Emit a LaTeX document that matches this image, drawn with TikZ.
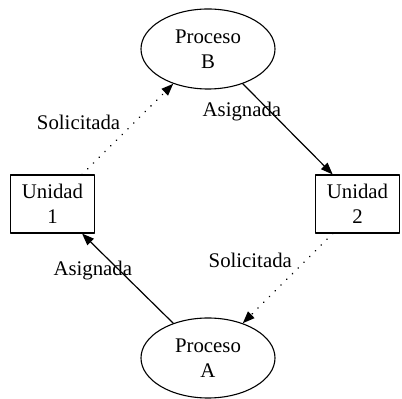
\documentclass[tikz,border=0pt]{standalone}
\usepackage{fontspec}
\setmainfont{Liberation Serif}
\usetikzlibrary{shapes.geometric,arrows.meta}
\begin{document}
\begin{tikzpicture}[x=1pt,y=1pt,>={Triangle[length=12pt,width=9pt]},
  font=\fontsize{20.8}{25}\selectfont, line join=round,
  proc/.style={draw,ellipse,line width=1.1pt,minimum width=134pt,minimum height=80pt,inner sep=0pt,align=center},
  caja/.style={draw,rectangle,line width=1.1pt,minimum width=84pt,minimum height=58pt,inner sep=0pt,align=center},
  punteado/.style={line width=1.7pt,line cap=round,dash pattern=on 0.1pt off 8pt},
  etiq/.style={inner sep=0pt}]
  \useasboundingbox (0,0) rectangle (402,399);
  \node[proc] (pb) at (208,350) {Proceso\\B};
  \node[proc] (pa) at (208,41) {Proceso\\A};
  \node[caja] (u1) at (52.5,195) {Unidad\\1};
  \node[caja] (u2) at (357.5,195) {Unidad\\2};
  % aristas
  \draw[punteado,->] (u1.45) -- (pb.225) node[etiq,pos=0.57,anchor=east,xshift=-13pt]{Solicitada};
  \draw[line width=1.2pt,->] (pb.-45) -- (u2.130) node[etiq,pos=0.31,xshift=-28.7pt]{Asignada};
  \draw[punteado,->] (u2.230) -- (pa.45) node[etiq,pos=0.3,anchor=east,xshift=-13pt]{Solicitada};
  \draw[line width=1.2pt,->] (pa.135) -- (u1.-45) node[etiq,pos=0.59,xshift=-26.6pt]{Asignada};
\end{tikzpicture}
\end{document}
